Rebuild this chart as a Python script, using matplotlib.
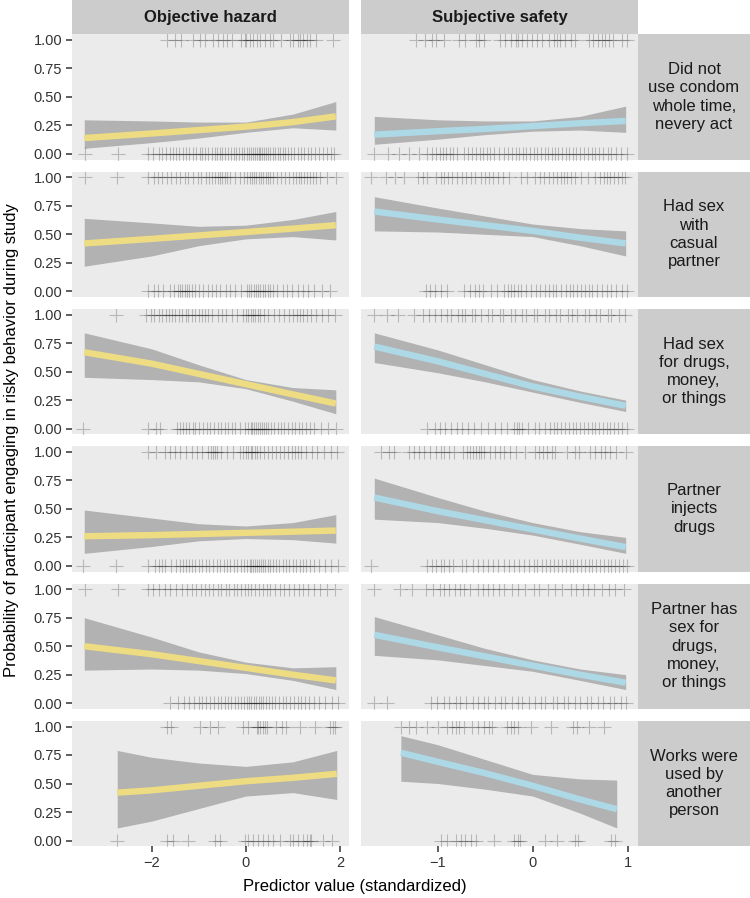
import matplotlib
matplotlib.use("Agg")
import matplotlib.pyplot as plt

plt.rcParams["font.family"] = ["Liberation Sans", "DejaVu Sans"]

predictors = ["Objective hazard", "Subjective safety"]
outcomes = [
    "Did not\nuse condom\nwhole time,\nnevery act",
    "Had sex\nwith\ncasual\npartner",
    "Had sex\nfor drugs,\nmoney,\nor things",
    "Partner\ninjects\ndrugs",
    "Partner has\nsex for\ndrugs,\nmoney,\nor things",
    "Works were\nused by\nanother\nperson",
]

# fitted curve (logistic) with confidence band
hazard_x = [[-3.43, -2, -1, 0, 1, 1.91]] * 5 + [[-2.73, -2, -1, 0, 1, 1.93]]
hazard_fit = [
    [0.14, 0.18, 0.21, 0.24, 0.28, 0.33],
    [0.42, 0.46, 0.49, 0.52, 0.55, 0.58],
    [0.67, 0.57, 0.48, 0.39, 0.30, 0.22],
    [0.26, 0.27, 0.28, 0.29, 0.30, 0.31],
    [0.50, 0.43, 0.37, 0.31, 0.25, 0.20],
    [0.42, 0.44, 0.48, 0.52, 0.55, 0.585],
]
hazard_hi = [
    [0.30, 0.29, 0.28, 0.28, 0.35, 0.46],
    [0.64, 0.60, 0.57, 0.58, 0.63, 0.70],
    [0.84, 0.70, 0.56, 0.43, 0.36, 0.34],
    [0.49, 0.42, 0.37, 0.35, 0.38, 0.45],
    [0.75, 0.58, 0.45, 0.36, 0.31, 0.32],
    [0.79, 0.73, 0.68, 0.65, 0.69, 0.79],
]
hazard_lo = [
    [0.05, 0.10, 0.14, 0.19, 0.23, 0.21],
    [0.22, 0.31, 0.40, 0.46, 0.48, 0.45],
    [0.45, 0.43, 0.41, 0.35, 0.24, 0.13],
    [0.11, 0.17, 0.22, 0.24, 0.23, 0.20],
    [0.29, 0.30, 0.29, 0.26, 0.20, 0.12],
    [0.11, 0.17, 0.28, 0.39, 0.42, 0.36],
]

safety_x = [[-1.67, -1, -0.5, 0, 0.5, 0.98]] * 5 + [[-1.39, -1, -0.5, 0, 0.5, 0.886]]
safety_fit = [
    [0.17, 0.20, 0.22, 0.245, 0.27, 0.29],
    [0.70, 0.63, 0.58, 0.53, 0.47, 0.42],
    [0.72, 0.59, 0.48, 0.37, 0.28, 0.20],
    [0.60, 0.48, 0.40, 0.32, 0.24, 0.165],
    [0.60, 0.49, 0.41, 0.33, 0.25, 0.18],
    [0.77, 0.69, 0.59, 0.48, 0.36, 0.275],
]
safety_hi = [
    [0.33, 0.30, 0.29, 0.29, 0.33, 0.42],
    [0.83, 0.73, 0.66, 0.59, 0.55, 0.53],
    [0.84, 0.69, 0.56, 0.43, 0.33, 0.25],
    [0.77, 0.60, 0.48, 0.38, 0.30, 0.25],
    [0.76, 0.60, 0.48, 0.38, 0.30, 0.25],
    [0.92, 0.84, 0.71, 0.58, 0.54, 0.53],
]
safety_lo = [
    [0.085, 0.13, 0.17, 0.20, 0.21, 0.19],
    [0.53, 0.52, 0.50, 0.48, 0.40, 0.31],
    [0.58, 0.49, 0.41, 0.32, 0.23, 0.15],
    [0.41, 0.38, 0.33, 0.27, 0.19, 0.11],
    [0.42, 0.38, 0.33, 0.28, 0.20, 0.12],
    [0.52, 0.50, 0.45, 0.39, 0.24, 0.11],
]

# participants: predictor values of those who did (1) / did not (0) engage
hazard_yes = [
    [-1.68, -1.50, -1.37, -1.12, -0.98, -0.87, -0.69, -0.59, -0.48, -0.41, -0.30, -0.10, -0.02, 0.01,
     0.08, 0.16, 0.23, 0.30, 0.40, 0.51, 0.58, 0.75, 0.93, 1.00, 1.11, 1.15, 1.22, 1.29, 1.36, 1.50, 1.85],
    [-3.42, -2.73, -2.07, -1.95, -1.86, -1.77, -1.68, -1.58, -1.49, -1.40, -1.30, -1.22, -1.12, -1.02,
     -0.95, -0.85, -0.78, -0.72, -0.66, -0.60, -0.55, -0.50, -0.45, -0.41, -0.33, -0.22, -0.12, -0.03,
     0.03, 0.08, 0.13, 0.18, 0.22, 0.27, 0.32, 0.37, 0.42, 0.47, 0.52, 0.58, 0.66, 0.74, 0.83, 0.92,
     1.00, 1.06, 1.12, 1.18, 1.24, 1.30, 1.36, 1.42, 1.50, 1.57, 1.72, 1.91],
    [-2.75, -2.11, -2.02, -1.94, -1.85, -1.77, -1.70, -1.63, -1.57, -1.50, -1.42, -1.35, -1.28, -1.22,
     -1.15, -1.08, -1.00, -0.93, -0.86, -0.80, -0.72, -0.60, -0.50, -0.42, -0.30, -0.18, -0.07, 0.00,
     0.05, 0.10, 0.15, 0.20, 0.25, 0.30, 0.38, 0.48, 0.60, 0.70, 0.82, 0.92, 1.00, 1.08, 1.15, 1.22,
     1.30, 1.38, 1.50, 1.62, 1.75, 1.89],
    [-2.07, -1.90, -1.72, -1.62, -1.50, -1.40, -1.28, -1.15, -1.03, -0.92, -0.80, -0.73, -0.69, -0.66,
     -0.62, -0.52, -0.40, -0.28, -0.13, -0.06, 0.00, 0.05, 0.10, 0.14, 0.19, 0.24, 0.30, 0.38, 0.47,
     0.55, 0.64, 0.72, 0.82, 0.90, 0.98, 1.04, 1.10, 1.18, 1.28, 1.40, 1.52, 1.65, 1.80, 1.93],
    [-3.42, -2.72, -2.08, -1.96, -1.85, -1.72, -1.60, -1.48, -1.36, -1.25, -1.15, -1.05, -0.95, -0.86,
     -0.78, -0.70, -0.60, -0.52, -0.43, -0.35, -0.26, -0.18, -0.10, -0.02, 0.05, 0.12, 0.20, 0.28,
     0.36, 0.44, 0.52, 0.62, 0.72, 0.82, 0.92, 1.02, 1.12, 1.22, 1.32, 1.44, 1.58, 1.72, 1.90],
    [-1.68, -1.58, -0.98, -0.76, -0.59, -0.06, 0.05, 0.23, 0.26, 0.30, 0.37, 0.40, 0.44, 0.65, 0.76,
     0.86, 1.15, 1.46, 1.78, 1.85, 1.89],
]
hazard_no = [
    [-3.42, -2.71, -2.07, -1.98, -1.85, -1.78, -1.70, -1.62, -1.55, -1.48, -1.41, -1.33, -1.27, -1.20,
     -1.12, -1.05, -0.98, -0.93, -0.86, -0.80, -0.72, -0.66, -0.61, -0.55, -0.50, -0.44, -0.38, -0.31,
     -0.25, -0.21, -0.15, -0.09, -0.04, 0.02, 0.06, 0.11, 0.15, 0.19, 0.23, 0.27, 0.31, 0.35, 0.39,
     0.43, 0.47, 0.52, 0.57, 0.62, 0.68, 0.73, 0.79, 0.84, 0.90, 0.96, 1.03, 1.10, 1.17, 1.24, 1.31,
     1.38, 1.46, 1.55, 1.63, 1.72, 1.80, 1.88],
    [-2.07, -1.95, -1.86, -1.75, -1.62, -1.52, -1.45, -1.40, -1.35, -1.30, -1.25, -1.20, -1.14, -1.08,
     -1.00, -0.90, -0.80, -0.72, -0.64, -0.55, -0.42, -0.33, -0.24, -0.10, 0.02, 0.07, 0.12, 0.17,
     0.21, 0.26, 0.31, 0.36, 0.41, 0.46, 0.52, 0.58, 0.66, 0.78, 0.88, 0.98, 1.10, 1.22, 1.33, 1.45,
     1.62, 1.78],
    [-3.45, -2.07, -1.90, -1.83, -1.47, -1.40, -1.33, -1.26, -1.20, -1.13, -1.07, -1.00, -0.90, -0.82,
     -0.76, -0.68, -0.60, -0.52, -0.45, -0.38, -0.30, -0.22, -0.12, -0.02, 0.05, 0.10, 0.14, 0.18,
     0.22, 0.26, 0.30, 0.34, 0.38, 0.42, 0.47, 0.53, 0.60, 0.68, 0.75, 0.82, 0.90, 0.97, 1.05, 1.13,
     1.20, 1.28, 1.36, 1.45, 1.60, 1.75, 1.92],
    [-3.45, -2.75, -2.07, -1.93, -1.85, -1.78, -1.72, -1.58, -1.48, -1.40, -1.33, -1.27, -1.20, -1.14,
     -1.07, -1.00, -0.93, -0.85, -0.78, -0.70, -0.62, -0.55, -0.47, -0.40, -0.33, -0.25, -0.18, -0.10,
     -0.03, 0.03, 0.08, 0.12, 0.16, 0.20, 0.24, 0.28, 0.32, 0.36, 0.41, 0.46, 0.52, 0.58, 0.64, 0.71,
     0.78, 0.85, 0.92, 1.00, 1.07, 1.14, 1.21, 1.28, 1.36, 1.44, 1.55, 1.68, 1.80, 1.95],
    [-1.62, -1.45, -1.32, -1.20, -1.10, -1.00, -0.92, -0.84, -0.76, -0.68, -0.60, -0.52, -0.45, -0.38,
     -0.31, -0.24, -0.17, -0.10, -0.04, 0.02, 0.07, 0.12, 0.17, 0.22, 0.27, 0.32, 0.37, 0.43, 0.49,
     0.55, 0.62, 0.70, 0.78, 0.86, 0.94, 1.02, 1.10, 1.18, 1.26, 1.35, 1.45, 1.56, 1.68, 1.82, 1.95],
    [-2.73, -1.68, -1.54, -1.22, -0.66, -0.55, -0.02, 0.05, 0.16, 0.26, 0.37, 0.47, 0.58, 0.72, 0.93,
     1.00, 1.11, 1.22, 1.29, 1.36, 1.39, 1.64, 1.82],
]
safety_yes = [
    [-1.23, -1.14, -1.06, -1.02, -0.93, -0.78, -0.71, -0.60, -0.57, -0.51, -0.34, -0.29, -0.23, -0.18,
     -0.15, -0.11, -0.06, -0.01, 0.05, 0.10, 0.17, 0.22, 0.26, 0.29, 0.34, 0.40, 0.45, 0.59, 0.64,
     0.69, 0.73, 0.76, 0.80, 0.85, 0.94, 0.99],
    [-1.70, -1.55, -1.45, -1.36, -1.21, -1.16, -1.11, -1.02, -0.97, -0.93, -0.89, -0.85, -0.80, -0.75,
     -0.70, -0.65, -0.61, -0.55, -0.50, -0.46, -0.42, -0.37, -0.31, -0.25, -0.12, -0.06, 0.02, 0.08,
     0.12, 0.17, 0.21, 0.26, 0.30, 0.33, 0.36, 0.40, 0.45, 0.51, 0.58, 0.66, 0.71, 0.75, 0.78, 0.82,
     0.86, 0.90, 0.94, 0.97],
    [-1.67, -1.54, -1.42, -1.25, -1.16, -1.09, -1.03, -0.97, -0.90, -0.86, -0.79, -0.75, -0.71, -0.64,
     -0.61, -0.55, -0.47, -0.43, -0.35, -0.31, -0.23, -0.19, -0.11, -0.07, 0.01, 0.05, 0.13, 0.17,
     0.25, 0.29, 0.37, 0.41, 0.47, 0.55, 0.59, 0.67, 0.71, 0.79, 0.83, 0.91, 0.97],
    [-1.60, -1.52, -1.46, -1.30, -1.25, -1.20, -1.15, -1.08, -1.02, -0.97, -0.93, -0.88, -0.83, -0.74,
     -0.69, -0.66, -0.63, -0.60, -0.57, -0.54, -0.51, -0.45, -0.40, -0.35, -0.30, -0.24, -0.18, -0.08,
     0.02, 0.07, 0.11, 0.15, 0.20, 0.24, 0.36, 0.45, 0.49, 0.60, 0.66, 0.72, 0.76, 0.82, 0.88, 0.98],
    [-1.67, -1.40, -1.27, -1.12, -1.05, -0.98, -0.93, -0.88, -0.82, -0.77, -0.72, -0.66, -0.58, -0.52,
     -0.47, -0.42, -0.36, -0.30, -0.22, -0.15, -0.08, 0.01, 0.07, 0.16, 0.23, 0.31, 0.40, 0.46, 0.53,
     0.58, 0.65, 0.73, 0.80, 0.87, 0.96],
    [-1.39, -1.30, -1.23, -1.11, -1.00, -0.90, -0.85, -0.81, -0.78, -0.72, -0.64, -0.58, -0.51, -0.46,
     -0.43, -0.27, -0.23, -0.20, -0.16, -0.02, 0.19, 0.43, 0.47, 0.59, 0.75],
]
safety_no = [
    [-1.67, -1.53, -1.41, -1.30, -1.20, -1.11, -1.06, -1.02, -0.98, -0.95, -0.91, -0.87, -0.84, -0.80,
     -0.72, -0.68, -0.64, -0.60, -0.56, -0.52, -0.48, -0.45, -0.41, -0.36, -0.30, -0.26, -0.22, -0.18,
     -0.14, -0.10, -0.07, -0.03, 0.01, 0.05, 0.09, 0.13, 0.16, 0.20, 0.24, 0.27, 0.31, 0.35, 0.38,
     0.42, 0.46, 0.50, 0.54, 0.58, 0.62, 0.66, 0.70, 0.74, 0.79, 0.83, 0.88, 0.93, 0.99],
    [-1.13, -1.08, -1.03, -0.97, -0.90, -0.72, -0.66, -0.61, -0.57, -0.52, -0.44, -0.38, -0.30, -0.26,
     -0.23, -0.20, -0.16, -0.12, -0.07, -0.02, 0.03, 0.08, 0.13, 0.17, 0.21, 0.25, 0.30, 0.35, 0.39,
     0.43, 0.47, 0.51, 0.55, 0.59, 0.63, 0.68, 0.73, 0.78, 0.83, 0.88, 0.94, 0.99],
    [-1.11, -1.03, -0.98, -0.92, -0.86, -0.80, -0.75, -0.68, -0.62, -0.55, -0.47, -0.40, -0.33, -0.27,
     -0.20, -0.17, -0.14, -0.11, -0.05, 0.02, 0.07, 0.13, 0.18, 0.22, 0.26, 0.30, 0.34, 0.38, 0.42,
     0.46, 0.50, 0.54, 0.58, 0.62, 0.66, 0.70, 0.74, 0.78, 0.82, 0.86, 0.90, 0.94, 0.99],
    [-1.70, -1.11, -1.06, -1.02, -0.97, -0.93, -0.88, -0.84, -0.75, -0.70, -0.63, -0.58, -0.52, -0.47,
     -0.42, -0.37, -0.30, -0.25, -0.20, -0.14, -0.09, -0.04, 0.01, 0.05, 0.10, 0.14, 0.18, 0.22, 0.27,
     0.31, 0.35, 0.39, 0.43, 0.47, 0.51, 0.55, 0.59, 0.63, 0.67, 0.71, 0.75, 0.79, 0.83, 0.87, 0.91,
     0.95, 0.99],
    [-1.67, -1.54, -1.07, -1.01, -0.93, -0.88, -0.81, -0.77, -0.70, -0.63, -0.58, -0.51, -0.47, -0.40,
     -0.33, -0.29, -0.22, -0.15, -0.11, -0.04, 0.02, 0.09, 0.13, 0.21, 0.26, 0.33, 0.37, 0.45, 0.50,
     0.57, 0.61, 0.69, 0.74, 0.81, 0.86, 0.93, 0.98],
    [-0.97, -0.90, -0.81, -0.76, -0.71, -0.65, -0.60, -0.41, -0.20, -0.16, -0.13, 0.13, 0.26, 0.45,
     0.48, 0.83, 0.87],
]

line_colors = ["#EEDC82", "#ADD8E6"]
panel_bg = "#EBEBEB"
strip_bg = "#CCCCCC"
band_color = "#B2B2B2"
tick_color = "#333333"

W, H = 750, 898
fig = plt.figure(figsize=(W / 100, H / 100), dpi=100)

col_left = [72, 361]
col_width = 277
row_top0 = 34.3
row_step = 137.3
panel_h = 125.4
strip_w = 112
xlims = [(-3.69, 2.19), (-1.81, 1.11)]
xticks = [[-2, 0, 2], [-1, 0, 1]]


def px_axes(left, top, width, height):
    return fig.add_axes([left / W, 1 - (top + height) / H, width / W, height / H])


def bare(ax):
    ax.set_facecolor(strip_bg)
    ax.set_xticks([])
    ax.set_yticks([])
    for s in ax.spines.values():
        s.set_visible(False)


for c in range(2):
    sax = px_axes(col_left[c], 0, col_width, row_top0)
    bare(sax)
    sax.text(0.5, 0.5, predictors[c], ha="center", va="center", fontsize=12,
             fontweight="bold", color="#1A1A1A", transform=sax.transAxes)

for r in range(6):
    top = row_top0 + r * row_step
    for c in range(2):
        ax = px_axes(col_left[c], top, col_width, panel_h)
        ax.set_facecolor(panel_bg)
        for s in ax.spines.values():
            s.set_visible(False)
        if c == 0:
            xs, fit, lo, hi = hazard_x[r], hazard_fit[r], hazard_lo[r], hazard_hi[r]
            yes, no = hazard_yes[r], hazard_no[r]
        else:
            xs, fit, lo, hi = safety_x[r], safety_fit[r], safety_lo[r], safety_hi[r]
            yes, no = safety_yes[r], safety_no[r]
        ax.fill_between(xs, lo, hi, color=band_color, lw=0, zorder=1)
        ax.plot(xs, fit, color=line_colors[c], lw=4.6, solid_capstyle="butt", zorder=2)
        ax.plot(yes, [1] * len(yes), "+", color="black", ms=10, mew=0.8, alpha=0.22, zorder=3)
        ax.plot(no, [0] * len(no), "+", color="black", ms=10, mew=0.8, alpha=0.22, zorder=3)
        ax.set_xlim(*xlims[c])
        ax.set_ylim(-0.05, 1.05)
        ax.set_yticks([0, 0.25, 0.5, 0.75, 1.0])
        ax.set_xticks(xticks[c])
        ax.tick_params(length=4, width=1.1, color=tick_color, labelsize=10.5,
                       labelcolor="#333333", pad=3)
        if c == 0:
            ax.set_yticklabels(["0.00", "0.25", "0.50", "0.75", "1.00"])
        else:
            ax.tick_params(axis="y", left=False, labelleft=False)
        if r == 5:
            ax.set_xticklabels(["\u2212" + str(abs(t)) if t < 0 else str(t) for t in xticks[c]])
        else:
            ax.tick_params(axis="x", bottom=False, labelbottom=False)

    rax = px_axes(col_left[1] + col_width, top, strip_w, panel_h)
    bare(rax)
    rax.text(0.5, 0.5, outcomes[r], ha="center", va="center", fontsize=12,
             color="#1A1A1A", linespacing=1.27, transform=rax.transAxes)

fig.text(355 / W, 1 - 886 / H, "Predictor value (standardized)", ha="center", va="center",
         fontsize=12, color="black")
fig.text(12 / W, 1 - 440 / H, "Probability of participant engaging in risky behavior during study",
         ha="center", va="center", rotation=90, fontsize=12, color="black")

fig.savefig("out.png", dpi=100)
